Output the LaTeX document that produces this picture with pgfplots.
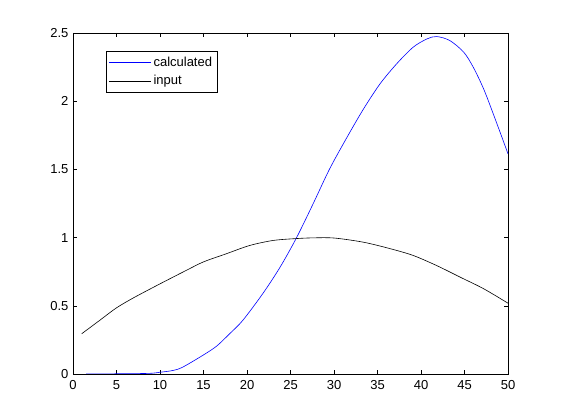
\documentclass[border=0pt]{standalone}
\usepackage{pgfplots}
\pgfplotsset{compat=1.18}
\usepackage{fontspec}
\setmainfont{Liberation Sans}
\begin{document}
\fontsize{13bp}{15bp}\selectfont
\begin{tikzpicture}
\useasboundingbox[fill=white] (0,0) rectangle (561bp,420bp);
\begin{axis}[
  at={(73bp,46bp)}, anchor=south west,
  scale only axis, width=435bp, height=341bp,
  xmin=0, xmax=50, ymin=0, ymax=2.5,
  xtick={0,5,...,50}, ytick={0,0.5,1,1.5,2,2.5},
  yticklabels={0,0.5,1,1.5,2,2.5},
  tick align=inside, major tick length=4.3bp,
  tick style={black, line width=0.5bp},
  axis line style={line width=0.6bp},
  /pgf/number format/assume math mode=true,
  tick label style={font=\fontsize{13bp}{15bp}\selectfont},
  xticklabel style={yshift=-2bp},
  legend style={at={(0.075,0.948)}, anchor=north west, draw=black, line width=0.6bp,
    font=\fontsize{13bp}{15bp}\selectfont, inner xsep=3bp, inner ysep=4bp,
    row sep=3bp, nodes={inner sep=2bp}},
  legend cell align=left,
  legend image code/.code={\draw[#1] (0bp,0bp) -- (42bp,0bp);},
]
\addplot[blue, line width=0.6bp, smooth, tension=0.5] coordinates {
(1.5,0)(8.4,0.004)(10,0.013)(11.5,0.026)(12.6,0.05)(14.9,0.136)(16.5,0.204)(18,0.295)(19.5,0.392)(21.8,0.588)(23.8,0.783)(25.7,1.0)(27.6,1.248)(29.5,1.504)(31.5,1.736)(33.4,1.944)(35.3,2.128)(37.2,2.274)(39.1,2.396)(40.7,2.457)(41.8,2.474)(43.3,2.445)(44.9,2.36)(46,2.25)(47.2,2.09)(48.3,1.908)(49.3,1.736)(50,1.614)
};
\addlegendentry{calculated}
\addplot[black, line width=0.6bp, smooth, tension=0.5] coordinates {
(1,0.295)(3,0.39)(5,0.485)(7,0.56)(10,0.661)(13,0.759)(15,0.822)(17.6,0.881)(20.3,0.942)(23,0.979)(25.7,0.993)(27.6,0.998)(30,0.997)(33.4,0.966)(36.5,0.918)(39.1,0.869)(41.8,0.795)(44.5,0.71)(47.2,0.625)(50,0.519)
};
\addlegendentry{input}
\end{axis}
\end{tikzpicture}
\end{document}
